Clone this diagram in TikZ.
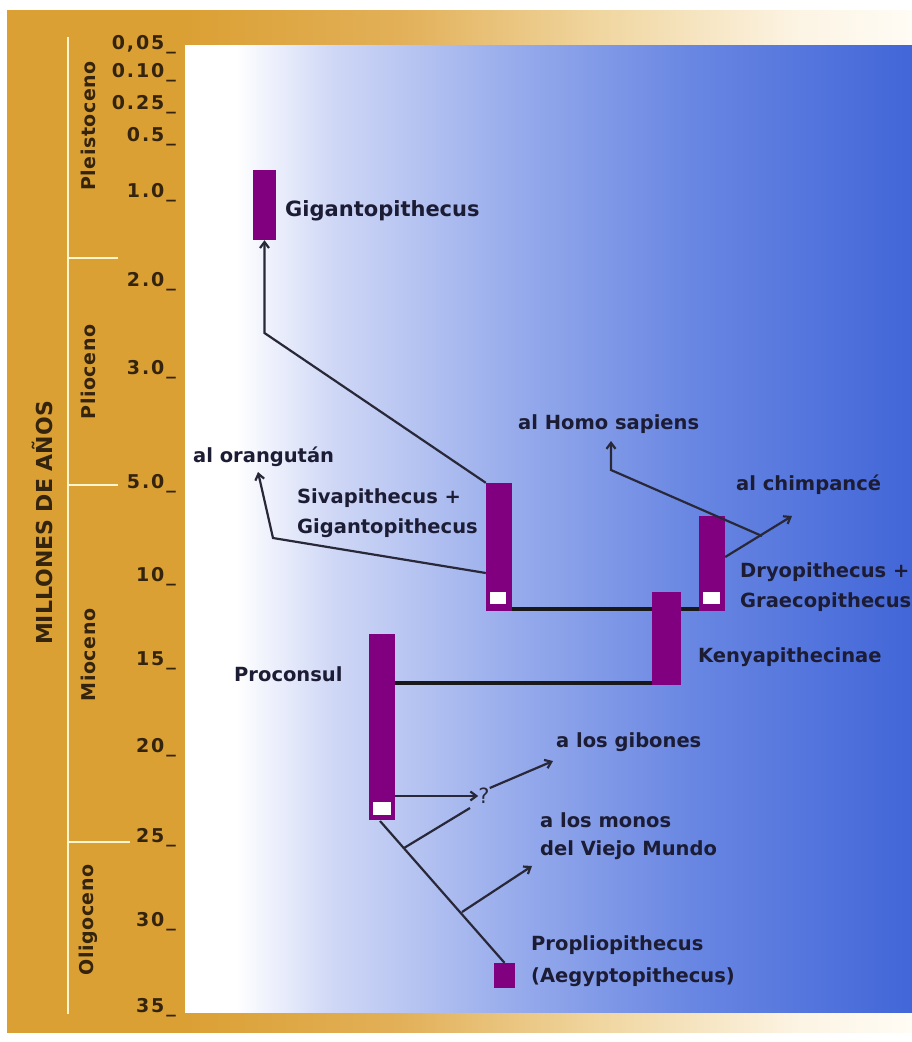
\documentclass[tikz,border=0pt]{standalone}
\usepackage{fontspec}
\setmainfont{DejaVu Sans}
\newfontfamily\tickfont{DejaVu Sans Bold}[LetterSpace=10]
\newfontfamily\epochfont{DejaVu Sans Bold}[LetterSpace=3]
\usetikzlibrary{arrows.meta}
\definecolor{purp}{RGB}{128,0,128}
\definecolor{orA}{RGB}{219,160,52}
\definecolor{orB}{RGB}{226,176,88}
\definecolor{orC}{RGB}{240,214,160}
\definecolor{orD}{RGB}{252,244,228}
\definecolor{orE}{RGB}{255,252,245}
\definecolor{bpA}{RGB}{208,216,246}
\definecolor{bpB}{RGB}{152,172,236}
\definecolor{bpC}{RGB}{104,134,226}
\definecolor{bpD}{RGB}{66,102,216}
\definecolor{txt}{RGB}{28,28,52}
\definecolor{brn}{RGB}{52,36,14}
\definecolor{cream}{RGB}{255,246,205}
\definecolor{lin}{RGB}{40,40,56}
\pgfdeclarehorizontalshading{orangeframe}{100bp}{color(0bp)=(orA); color(25bp)=(orA); color(34.8bp)=(orA); color(46.7bp)=(orB); color(57.8bp)=(orC); color(68.8bp)=(orD); color(75bp)=(orE); color(100bp)=(orE)}
\pgfdeclarehorizontalshading{bluepanel}{100bp}{color(0bp)=(white); color(25bp)=(white); color(28.5bp)=(white); color(35bp)=(bpA); color(47.5bp)=(bpB); color(60bp)=(bpC); color(75bp)=(bpD); color(100bp)=(bpD)}
\begin{document}
\begin{tikzpicture}[x=1pt,y=-1pt,
  bar/.style={fill=purp, draw=none, inner sep=0pt},
  hole/.style={fill=white, draw=none, inner sep=0pt},
  lab/.style={text=txt, font=\fontsize{19.5}{21}\selectfont\bfseries, inner sep=0pt, anchor=west},
  tick/.style={text=brn, font=\fontsize{19}{21}\selectfont\tickfont, inner sep=0pt, anchor=east},
  epoch/.style={text=brn, font=\fontsize{19}{21}\selectfont\epochfont, inner sep=0pt, rotate=90},
  axisline/.style={draw=cream, line width=2pt},
  conn/.style={draw=lin, line width=2.2pt},
  link/.style={draw=black!90, line width=4.5pt},
  tip/.style={-{Straight Barb[length=6pt,width=9pt]}}
]
\useasboundingbox (0,0) rectangle (912,1042);
\fill[white] (0,0) rectangle (912,1042);
\shade[shading=orangeframe] (7,10) rectangle (912,1032);
\shade[shading=bluepanel] (185,45) rectangle (912,1012);
% axis
\draw[axisline] (68,37) -- (68,1014);
\draw[axisline] (68,258) -- (118,258);
\draw[axisline] (68,485) -- (118,485);
\draw[axisline] (68,842) -- (130,842);
\node[text=brn, font=\fontsize{22}{24}\selectfont\bfseries, rotate=90, inner sep=0pt] (ttl) at (42,523) {MILLONES DE AÑOS};
\node[epoch] (ep1) at (88,126) {Pleistoceno};
\node[epoch] (ep2) at (88,372) {Plioceno};
\node[epoch] (ep3) at (88,655) {Mioceno};
\node[epoch] (ep4) at (88,920) {Oligoceno};
\node[tick] (t1) at (176,45) {0,05\_};
\node[tick] (t2) at (176,73) {0.10\_};
\node[tick] (t3) at (176,105) {0.25\_};
\node[tick] (t4) at (176,137) {0.5\_};
\node[tick] (t5) at (176,193) {1.0\_};
\node[tick] (t6) at (176,282) {2.0\_};
\node[tick] (t7) at (176,370) {3.0\_};
\node[tick] (t8) at (176,484) {5.0\_};
\node[tick] (t9) at (176,577) {10\_};
\node[tick] (t10) at (176,661) {15\_};
\node[tick] (t11) at (176,748) {20\_};
\node[tick] (t12) at (176,838) {25\_};
\node[tick] (t13) at (176,922) {30\_};
\node[tick] (t14) at (176,1008) {35\_};
% bars
\node[bar, minimum width=23, minimum height=70] (gig) at (264.5,205) {};
\node[bar, minimum width=26, minimum height=128] (siva) at (499,547) {};
\node[bar, minimum width=26, minimum height=95] (dryo) at (712,563.5) {};
\node[bar, minimum width=26, minimum height=186] (procon) at (382,727) {};
\node[bar, minimum width=21, minimum height=25] (propl) at (504.5,975.5) {};
% horizontal links
\draw[link] (siva.east |- 0,609) -- (dryo.west |- 0,609);
\draw[link] (procon.east |- 0,683) -- (652,683);
\node[bar, minimum width=29, minimum height=93] (kenya) at (666.5,638.5) {};
\node[hole, minimum width=16, minimum height=12] (sivah) at (498,598) {};
\node[hole, minimum width=17, minimum height=12] (dryoh) at (711.5,598) {};
\node[hole, minimum width=18, minimum height=13] (proconh) at (382,808.5) {};
% labels
\node[lab, font=\fontsize{21}{23}\selectfont\bfseries] (lgig) at (285,211) {Gigantopithecus};
\node[lab] (lora) at (193,457) {al orangután};
\node[lab] (lsiva1) at (297,498) {Sivapithecus +};
\node[lab] (lsiva2) at (297,528) {Gigantopithecus};
\node[lab] (lhomo) at (518,424) {al Homo sapiens};
\node[lab] (lchimp) at (736,485) {al chimpancé};
\node[lab] (ldryo1) at (740,572) {Dryopithecus +};
\node[lab] (ldryo2) at (740,602) {Graecopithecus};
\node[lab] (lkenya) at (698,657) {Kenyapithecinae};
\node[lab] (lproc) at (234,674) {Proconsul};
\node[lab] (lgib) at (556,742) {a los gibones};
\node[lab] (lmon1) at (540,820) {a los monos};
\node[lab] (lmon2) at (540,850) {del Viejo Mundo};
\node[lab] (lpro1) at (531,945) {Propliopithecus};
\node[lab] (lpro2) at (531,977) {(Aegyptopithecus)};
\node[text=lin, font=\fontsize{21}{23}\selectfont, inner sep=0pt] (q) at (484,796) {?};
% connectors
\coordinate (gb) at (gig.south |- 0,333);
\draw[conn,tip] (siva.north west) -- (gb) -- (gig.south);
\coordinate (ob) at (273,538);
\coordinate (oe) at (258,472);
\draw[conn,tip] (siva.west |- 0,573) -- (ob) -- (oe);
\coordinate (cs) at (dryo.east |- 0,557);
\coordinate (ce) at (792,516);
\draw[conn,tip] (cs) -- (ce);
\coordinate (hs) at (762,536);
\coordinate (hb) at (611,470);
\coordinate (he) at (611,441);
\draw[conn,tip] (hs) -- (hb) -- (he);
\draw[conn,tip] (procon.east |- 0,796) -- (q.west);
\coordinate (ge) at (553,761);
\draw[conn,tip] (q.north east) -- (ge);
\coordinate (ds) at (380,821);
\draw[conn] (ds) -- (propl.north);
\coordinate (b1s) at (404,848);
\coordinate (b1e) at (470,808);
\draw[conn] (b1s) -- (b1e);
\coordinate (b2s) at (462,912);
\coordinate (b2e) at (532,866);
\draw[conn,tip] (b2s) -- (b2e);
\end{tikzpicture}
\end{document}
